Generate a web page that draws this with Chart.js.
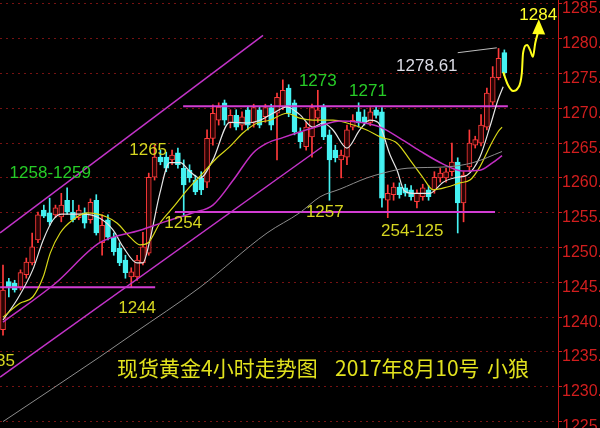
<!DOCTYPE html>
<html>
<head>
<meta charset="utf-8">
<script src="https://cdn.jsdelivr.net/npm/chart.js@4.4.0/dist/chart.umd.min.js"></script>
<style>
  html, body { margin: 0; padding: 0; background: #000; }
  canvas { display: block; }
</style>
</head>
<body>
<canvas id="goldChart" width="600" height="428"></canvas>
<script>
// 现货黄金 4小时K线
const opens = [1238.2,1245.1,1244.9,1244.3,1246.1,1247.8,1251.1,1255.4,1255.0,1254.7,
  1254.4,1256.8,1255.1,1254.3,1255.0,1254.0,1256.8,1250.7,1254.0,1251.5,
  1249.9,1248.2,1245.8,1245.8,1247.8,1249.2,1260.1,1263.0,1263.0,1262.6,
  1263.6,1261.4,1261.1,1259.7,1260.0,1259.4,1265.7,1268.3,1270.8,1267.9,
  1269.0,1267.6,1269.8,1268.0,1269.8,1268.8,1270.1,1269.3,1270.2,1272.9,
  1270.8,1266.6,1264.5,1265.9,1268.6,1270.2,1266.2,1264.0,1262.6,1263.0,
  1267.3,1269.5,1268.8,1268.0,1269.8,1269.5,1256.8,1257.6,1258.7,1258.6,
  1258.3,1256.6,1257.3,1258.3,1258.3,1260.0,1260.0,1260.9,1262.3,1256.4,
  1261.6,1264.7,1265.0,1267.3,1270.9,1274.4,1278.0];
const highs = [1247.5,1245.6,1245.3,1246.8,1248.5,1252.1,1255.1,1256.1,1257.1,1256.1,
  1257.8,1258.6,1256.8,1256.1,1255.7,1257.0,1257.6,1254.7,1254.7,1252.1,
  1250.7,1248.9,1247.1,1248.9,1252.2,1260.7,1264.7,1264.0,1263.7,1264.0,
  1264.3,1262.6,1261.9,1260.4,1260.9,1266.9,1270.5,1270.8,1271.2,1269.8,
  1269.8,1269.5,1270.2,1270.6,1270.3,1270.6,1270.6,1272.2,1274.1,1273.4,
  1271.2,1267.2,1268.0,1270.6,1272.6,1270.6,1266.9,1264.7,1264.0,1267.6,
  1269.1,1270.8,1269.8,1270.1,1270.3,1270.1,1259.0,1259.3,1259.3,1259.1,
  1258.9,1258.3,1259.1,1258.9,1260.9,1261.4,1261.4,1265.0,1262.9,1260.9,
  1266.9,1266.0,1269.1,1272.9,1276.0,1278.61,1278.4];
const lows = [1237.4,1242.9,1243.6,1243.9,1245.6,1247.5,1250.7,1254.3,1253.2,1254.3,
  1253.7,1254.8,1253.7,1254.0,1252.8,1253.5,1251.8,1248.9,1251.1,1248.9,
  1247.4,1245.6,1244.3,1245.3,1247.5,1248.9,1259.7,1261.9,1260.9,1261.9,
  1261.4,1254.5,1259.4,1257.6,1257.6,1258.6,1264.7,1267.6,1267.6,1267.2,
  1266.9,1266.9,1266.9,1267.3,1267.2,1268.0,1266.9,1262.6,1269.8,1268.8,
  1266.2,1264.3,1264.0,1263.0,1268.0,1265.5,1256.8,1262.3,1260.0,1261.9,
  1266.9,1267.3,1267.6,1267.5,1268.6,1255.8,1254.3,1256.8,1257.1,1257.4,
  1256.8,1255.7,1256.8,1256.8,1257.8,1259.4,1259.4,1260.3,1252.1,1253.7,
  1260.9,1264.3,1264.6,1266.9,1270.5,1274.1,1274.7];
const closes = [1243.9,1244.2,1243.9,1246.4,1247.9,1250.1,1254.7,1254.5,1253.7,1255.7,
  1256.1,1255.1,1254.0,1255.4,1253.5,1256.5,1252.1,1253.2,1251.5,1249.4,
  1247.8,1246.4,1246.5,1248.2,1250.1,1260.1,1263.0,1262.3,1261.4,1263.3,
  1261.9,1259.0,1260.0,1258.0,1258.3,1265.7,1269.3,1270.2,1268.3,1269.0,
  1267.3,1268.8,1267.6,1270.1,1267.6,1270.1,1267.6,1271.6,1272.6,1269.3,
  1266.6,1265.2,1267.3,1270.1,1269.8,1265.9,1262.6,1262.9,1263.3,1266.9,
  1268.3,1267.9,1268.0,1269.5,1269.0,1257.1,1257.8,1258.7,1257.6,1257.8,
  1257.3,1257.8,1258.6,1257.3,1260.1,1260.7,1260.9,1262.3,1256.4,1260.4,
  1265.0,1265.5,1267.6,1272.2,1274.5,1277.2,1275.1];

// moving-average curves: [bar index, price]
const maWhite = [[0,1239.6],[2.4,1242.5],[5.1,1246.8],[6.9,1251.1],[8.6,1254.0],[10.1,1254.8],
  [13.7,1254.8],[16.6,1254.2],[18.9,1252.5],[20.6,1250.1],[23.0,1247.8],[24.0,1247.8],[25.2,1251.1],
  [26.9,1257.8],[28.6,1262.2],[30.4,1262.2],[32.1,1260.9],[33.8,1260.0],[36.0,1262.6],[38.9,1268.0],
  [41.9,1267.9],[44.1,1268.3],[46.3,1269.3],[48.7,1270.2],[50.9,1269.1],[53.2,1267.3],[54.9,1267.9],
  [56.6,1266.9],[59.0,1264.3],[61.2,1266.9],[62.9,1268.3],[64.3,1268.0],[66.4,1263.3],[67.6,1261.1],
  [68.8,1258.2],[70.3,1257.8],[73.2,1257.8],[75.5,1259.4],[77.9,1260.1],[79.6,1260.4],[81.8,1263.0],
  [83.5,1267.3],[84.9,1271.2],[85.8,1273.1]];
const maYellow = [[0,1240.0],[2.9,1242.0],[5.1,1242.9],[6.9,1245.8],[8.1,1249.2],[9.8,1252.1],
  [12.0,1254.0],[14.4,1255.0],[17.8,1254.4],[19.6,1253.5],[21.8,1251.5],[23.5,1250.4],[24.9,1250.7],
  [26.9,1253.5],[29.2,1255.8],[31.6,1258.3],[34.3,1260.7],[36.7,1262.9],[38.9,1264.5],[41.2,1266.5],
  [43.6,1267.9],[45.8,1268.3],[48.7,1269.3],[50.9,1268.6],[53.2,1268.3],[56.6,1268.3],[59.0,1267.9],
  [62.4,1266.9],[64.7,1265.9],[67.6,1265.0],[69.8,1262.6],[72.0,1260.1],[73.8,1258.3],[76.2,1258.7],
  [78.4,1259.3],[80.1,1259.7],[81.8,1261.6],[83.5,1264.5],[84.9,1266.6],[85.6,1267.3]];
const maMagenta = [[0,1239.3],[8.9,1244.8],[16.6,1250.7],[23.5,1252.5],[28.1,1253.8],[32.6,1255.0],
  [36.0,1256.1],[39.5,1259.7],[42.9,1263.6],[45.3,1265.0],[48.0,1265.8],[50.9,1266.6],[54.4,1267.5],
  [57.8,1268.2],[61.2,1268.0],[64.7,1267.3],[68.1,1265.7],[71.5,1263.9],[75.5,1262.0],[78.9,1261.0],
  [81.8,1261.1],[84.0,1262.2],[85.6,1263.2]];
const maGray = [[0,1225.0],[16.6,1234.3],[22.3,1237.6],[33.8,1244.3],[45.3,1252.1],[50.9,1255.0],
  [54.4,1257.3],[57.8,1258.4],[62.4,1260.0],[65.2,1260.7],[69.3,1261.4],[76.2,1261.6],[80.6,1262.2],
  [85.6,1263.8]];

// hand-drawn lines
const channelTop = [[-0.5,1252.1],[44.6,1280.5]];
const channelBottom = [[-0.5,1231.4],[54.7,1264.45]];
const support1244 = [[-0.5,1244.3],[26.1,1244.3]];
const support1255 = [[29.5,1255.1],[84.4,1255.1]];
const resist1270 = [[30.9,1270.3],[86.6,1270.3]];
const peakLeader = [[78.0,1278.0],[84.7,1278.7]];
const forecastPath = [[85.8,1275.2],[86.6,1273.4],[87.5,1272.5],[88.3,1272.9],[89.0,1275.1],
  [89.2,1277.9],[89.9,1279.1],[90.4,1278.4],[90.9,1277.4],[91.3,1279.4],[91.8,1281.0],[92.0,1281.7]];
const arrowHead = [[91.9,1282.8],[90.8,1280.7],[93.0,1280.6]];

const yTicks = [1225,1230,1235,1240,1245,1250,1255,1260,1265,1270,1275,1280,1285];

const notes = [
  { text: '1258-1259', at: [8.1, 1260.6], color: '#27cc27' },
  { text: '1265', at: [24.9, 1264.0], color: '#d6d620' },
  { text: '1254', at: [30.9, 1253.5], color: '#d6d620' },
  { text: '1244', at: [23.0, 1241.3], color: '#d6d620' },
  { text: '1235', at: [-1.2, 1233.7], color: '#d6d620' },
  { text: '1273', at: [54.0, 1273.9], color: '#27cc27' },
  { text: '1271', at: [62.6, 1272.5], color: '#27cc27' },
  { text: '1257', at: [55.2, 1255.0], color: '#d6d620' },
  { text: '254-125', at: [70.2, 1252.4], color: '#d6d620' },
  { text: '1278.61', at: [72.7, 1276.1], color: '#dcdce6' },
  { text: '1284', at: [91.8, 1283.4], color: '#ffff2a' }
];

const UP = '#ff3a3a';
const DOWN = '#45f2f2';
const idx = closes.map((_, i) => i);
const isUp = idx.map(i => closes[i] >= opens[i]);
const pts = arr => arr.map(p => ({ x: p[0], y: p[1] }));

function lineSet(arr, color, width, extra) {
  return Object.assign({
    type: 'line', data: pts(arr), borderColor: color, borderWidth: width,
    pointRadius: 0, fill: false, order: 0
  }, extra || {});
}

const drawExtras = {
  id: 'drawExtras',
  beforeDraw(chart) {
    const c = chart.ctx;
    c.save();
    c.fillStyle = '#000';
    c.fillRect(0, 0, chart.width, chart.height);
    c.restore();
  },
  afterDatasetsDraw(chart) {
    const c = chart.ctx, xs = chart.scales.x, ys = chart.scales.y;
    c.save();
    // arrow head of the forecast path
    c.fillStyle = '#ffff1a';
    c.beginPath();
    arrowHead.forEach((p, k) => {
      const px = xs.getPixelForValue(p[0]), py = ys.getPixelForValue(p[1]);
      k ? c.lineTo(px, py) : c.moveTo(px, py);
    });
    c.closePath();
    c.fill();

    c.font = '17px "Liberation Sans", Arial, sans-serif';
    c.textBaseline = 'middle';
    c.textAlign = 'center';
    notes.forEach(n => {
      c.fillStyle = n.color;
      c.fillText(n.text, xs.getPixelForValue(n.at[0]), ys.getPixelForValue(n.at[1]));
    });

    c.font = '21px "Noto Sans CJK SC", sans-serif';
    c.textAlign = 'left';
    c.fillStyle = '#e2e21e';
    c.fillText('现货黄金4小时走势图', 117, 368);
    c.fillText('2017年8月10号', 335, 368);
    c.fillText('小狼', 487, 368);
    c.restore();
  }
};

new Chart(document.getElementById('goldChart'), {
  type: 'bar',
  data: {
    datasets: [
      lineSet(maGray, '#8c8c8c', 1, { cubicInterpolationMode: 'monotone' }),
      lineSet(maMagenta, '#c22ec2', 1.5, { cubicInterpolationMode: 'monotone' }),
      lineSet(maYellow, '#d8d818', 1.2, { cubicInterpolationMode: 'monotone' }),
      lineSet(maWhite, '#e6e6e6', 1.2, { cubicInterpolationMode: 'monotone' }),
      lineSet(channelTop, '#c233c8', 1.5),
      lineSet(channelBottom, '#c233c8', 1.5),
      lineSet(support1244, '#d23cd2', 2),
      lineSet(support1255, '#d23cd2', 2),
      lineSet(resist1270, '#d23cd2', 2),
      lineSet(peakLeader, '#bdbdbd', 1),
      lineSet(forecastPath, '#ffff1a', 2, { cubicInterpolationMode: 'monotone' }),
      {
        label: 'body',
        data: idx.map(i => ({ x: i, y: [opens[i], closes[i]] })),
        backgroundColor: idx.map(i => isUp[i] ? '#2a0404' : DOWN),
        borderColor: idx.map(i => isUp[i] ? UP : DOWN),
        borderWidth: 1,
        borderSkipped: false,
        barThickness: 5,
        grouped: false,
        order: 1
      },
      {
        label: 'wick',
        data: idx.map(i => ({ x: i, y: [lows[i], highs[i]] })),
        backgroundColor: idx.map(i => isUp[i] ? UP : DOWN),
        borderWidth: 0,
        barThickness: 1,
        grouped: false,
        order: 2
      }
    ]
  },
  options: {
    responsive: false,
    animation: false,
    events: [],
    layout: { padding: 0 },
    plugins: { legend: { display: false }, tooltip: { enabled: false } },
    scales: {
      x: { type: 'linear', display: false, offset: false, min: -0.515, max: 95.2 },
      y: {
        position: 'right',
        min: 1224.08,
        max: 1285.57,
        afterFit(scale) { scale.width = 42; scale.paddingTop = 0; scale.paddingBottom = 0; },
        afterBuildTicks(scale) { scale.ticks = yTicks.map(v => ({ value: v })); },
        ticks: {
          color: '#d21e1e',
          padding: 0,
          labelOffset: 5,
          font: { family: 'Liberation Sans', size: 16 },
          callback: v => Number(v).toFixed(2)
        },
        grid: { color: '#761212', tickColor: '#d21e1e', tickLength: 4, tickBorderDash: [] },
        border: { display: true, color: '#c81818', width: 1, dash: [2, 4] }
      }
    }
  },
  plugins: [drawExtras]
});
</script>
</body>
</html>
